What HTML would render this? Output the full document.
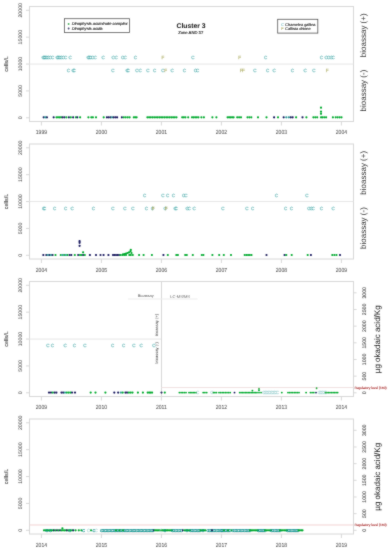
<!DOCTYPE html>
<html><head><meta charset="utf-8"><style>
html,body{margin:0;padding:0;background:#fff;}
body{width:392px;height:550px;overflow:hidden;}
svg{display:block;font-family:'Liberation Sans', Arial, sans-serif;text-rendering:geometricPrecision;}
</style></head><body>
<svg width="392" height="550" viewBox="0 0 392 550">
<defs><filter id="bl" x="0" y="0" width="100%" height="100%" filterUnits="userSpaceOnUse"><feConvolveMatrix order="3" kernelMatrix="0.025 0.075 0.025 0.075 0.6 0.075 0.025 0.075 0.025" divisor="1" edgeMode="duplicate" preserveAlpha="false"/></filter></defs>
<rect width="392" height="550" fill="#fff"/>
<g filter="url(#bl)">
<rect x="29.5" y="6.5" width="324.0" height="115.0" fill="none" stroke="#d8d8d8" stroke-width="1"/>
<line x1="26.00" y1="117.80" x2="29.50" y2="117.80" stroke="#d8d8d8" stroke-width="1"/>
<text x="0" y="0" transform="translate(20.90,117.80) rotate(-90)" font-size="5.2" fill="#505050" text-anchor="middle" dominant-baseline="central" stroke="#505050" stroke-width="0.05">0</text>
<line x1="26.00" y1="90.92" x2="29.50" y2="90.92" stroke="#d8d8d8" stroke-width="1"/>
<text x="0" y="0" transform="translate(20.90,90.92) rotate(-90)" font-size="5.2" fill="#505050" text-anchor="middle" dominant-baseline="central" stroke="#505050" stroke-width="0.05">5000</text>
<line x1="26.00" y1="64.05" x2="29.50" y2="64.05" stroke="#d8d8d8" stroke-width="1"/>
<text x="0" y="0" transform="translate(20.90,64.05) rotate(-90)" font-size="5.2" fill="#505050" text-anchor="middle" dominant-baseline="central" stroke="#505050" stroke-width="0.05">10000</text>
<line x1="26.00" y1="37.17" x2="29.50" y2="37.17" stroke="#d8d8d8" stroke-width="1"/>
<text x="0" y="0" transform="translate(20.90,37.17) rotate(-90)" font-size="5.2" fill="#505050" text-anchor="middle" dominant-baseline="central" stroke="#505050" stroke-width="0.05">15000</text>
<line x1="26.00" y1="10.30" x2="29.50" y2="10.30" stroke="#d8d8d8" stroke-width="1"/>
<text x="0" y="0" transform="translate(20.90,10.30) rotate(-90)" font-size="5.2" fill="#505050" text-anchor="middle" dominant-baseline="central" stroke="#505050" stroke-width="0.05">20000</text>
<text x="0" y="0" transform="translate(7.10,64.00) rotate(-90)" font-size="5.4" fill="#505050" text-anchor="middle" dominant-baseline="central" stroke="#505050" stroke-width="0.12">cells/L</text>
<line x1="41.40" y1="121.50" x2="41.40" y2="125.50" stroke="#d8d8d8" stroke-width="1"/>
<text x="0" y="0" transform="translate(41.40,134.20) scale(0.86,1)" font-size="5.9" fill="#505050" text-anchor="middle" stroke="#505050" stroke-width="0.05">1999</text>
<line x1="101.40" y1="121.50" x2="101.40" y2="125.50" stroke="#d8d8d8" stroke-width="1"/>
<text x="0" y="0" transform="translate(101.40,134.20) scale(0.86,1)" font-size="5.9" fill="#505050" text-anchor="middle" stroke="#505050" stroke-width="0.05">2000</text>
<line x1="161.40" y1="121.50" x2="161.40" y2="125.50" stroke="#d8d8d8" stroke-width="1"/>
<text x="0" y="0" transform="translate(161.40,134.20) scale(0.86,1)" font-size="5.9" fill="#505050" text-anchor="middle" stroke="#505050" stroke-width="0.05">2001</text>
<line x1="221.40" y1="121.50" x2="221.40" y2="125.50" stroke="#d8d8d8" stroke-width="1"/>
<text x="0" y="0" transform="translate(221.40,134.20) scale(0.86,1)" font-size="5.9" fill="#505050" text-anchor="middle" stroke="#505050" stroke-width="0.05">2002</text>
<line x1="281.40" y1="121.50" x2="281.40" y2="125.50" stroke="#d8d8d8" stroke-width="1"/>
<text x="0" y="0" transform="translate(281.40,134.20) scale(0.86,1)" font-size="5.9" fill="#505050" text-anchor="middle" stroke="#505050" stroke-width="0.05">2003</text>
<line x1="341.40" y1="121.50" x2="341.40" y2="125.50" stroke="#d8d8d8" stroke-width="1"/>
<text x="0" y="0" transform="translate(341.40,134.20) scale(0.86,1)" font-size="5.9" fill="#505050" text-anchor="middle" stroke="#505050" stroke-width="0.05">2004</text>
<rect x="29.5" y="144.0" width="324.0" height="115.0" fill="none" stroke="#d8d8d8" stroke-width="1"/>
<line x1="26.00" y1="255.30" x2="29.50" y2="255.30" stroke="#d8d8d8" stroke-width="1"/>
<text x="0" y="0" transform="translate(20.90,255.30) rotate(-90)" font-size="5.2" fill="#505050" text-anchor="middle" dominant-baseline="central" stroke="#505050" stroke-width="0.05">0</text>
<line x1="26.00" y1="228.43" x2="29.50" y2="228.43" stroke="#d8d8d8" stroke-width="1"/>
<text x="0" y="0" transform="translate(20.90,228.43) rotate(-90)" font-size="5.2" fill="#505050" text-anchor="middle" dominant-baseline="central" stroke="#505050" stroke-width="0.05">5000</text>
<line x1="26.00" y1="201.55" x2="29.50" y2="201.55" stroke="#d8d8d8" stroke-width="1"/>
<text x="0" y="0" transform="translate(20.90,201.55) rotate(-90)" font-size="5.2" fill="#505050" text-anchor="middle" dominant-baseline="central" stroke="#505050" stroke-width="0.05">10000</text>
<line x1="26.00" y1="174.68" x2="29.50" y2="174.68" stroke="#d8d8d8" stroke-width="1"/>
<text x="0" y="0" transform="translate(20.90,174.68) rotate(-90)" font-size="5.2" fill="#505050" text-anchor="middle" dominant-baseline="central" stroke="#505050" stroke-width="0.05">15000</text>
<line x1="26.00" y1="147.80" x2="29.50" y2="147.80" stroke="#d8d8d8" stroke-width="1"/>
<text x="0" y="0" transform="translate(20.90,147.80) rotate(-90)" font-size="5.2" fill="#505050" text-anchor="middle" dominant-baseline="central" stroke="#505050" stroke-width="0.05">20000</text>
<text x="0" y="0" transform="translate(7.10,201.50) rotate(-90)" font-size="5.4" fill="#505050" text-anchor="middle" dominant-baseline="central" stroke="#505050" stroke-width="0.12">cells/L</text>
<line x1="41.40" y1="259.00" x2="41.40" y2="263.00" stroke="#d8d8d8" stroke-width="1"/>
<text x="0" y="0" transform="translate(41.40,271.70) scale(0.86,1)" font-size="5.9" fill="#505050" text-anchor="middle" stroke="#505050" stroke-width="0.05">2004</text>
<line x1="101.40" y1="259.00" x2="101.40" y2="263.00" stroke="#d8d8d8" stroke-width="1"/>
<text x="0" y="0" transform="translate(101.40,271.70) scale(0.86,1)" font-size="5.9" fill="#505050" text-anchor="middle" stroke="#505050" stroke-width="0.05">2005</text>
<line x1="161.40" y1="259.00" x2="161.40" y2="263.00" stroke="#d8d8d8" stroke-width="1"/>
<text x="0" y="0" transform="translate(161.40,271.70) scale(0.86,1)" font-size="5.9" fill="#505050" text-anchor="middle" stroke="#505050" stroke-width="0.05">2006</text>
<line x1="221.40" y1="259.00" x2="221.40" y2="263.00" stroke="#d8d8d8" stroke-width="1"/>
<text x="0" y="0" transform="translate(221.40,271.70) scale(0.86,1)" font-size="5.9" fill="#505050" text-anchor="middle" stroke="#505050" stroke-width="0.05">2007</text>
<line x1="281.40" y1="259.00" x2="281.40" y2="263.00" stroke="#d8d8d8" stroke-width="1"/>
<text x="0" y="0" transform="translate(281.40,271.70) scale(0.86,1)" font-size="5.9" fill="#505050" text-anchor="middle" stroke="#505050" stroke-width="0.05">2008</text>
<line x1="341.40" y1="259.00" x2="341.40" y2="263.00" stroke="#d8d8d8" stroke-width="1"/>
<text x="0" y="0" transform="translate(341.40,271.70) scale(0.86,1)" font-size="5.9" fill="#505050" text-anchor="middle" stroke="#505050" stroke-width="0.05">2009</text>
<rect x="29.5" y="281.5" width="324.0" height="115.0" fill="none" stroke="#d8d8d8" stroke-width="1"/>
<line x1="26.00" y1="392.80" x2="29.50" y2="392.80" stroke="#d8d8d8" stroke-width="1"/>
<text x="0" y="0" transform="translate(20.90,392.80) rotate(-90)" font-size="5.2" fill="#505050" text-anchor="middle" dominant-baseline="central" stroke="#505050" stroke-width="0.05">0</text>
<line x1="26.00" y1="365.93" x2="29.50" y2="365.93" stroke="#d8d8d8" stroke-width="1"/>
<text x="0" y="0" transform="translate(20.90,365.93) rotate(-90)" font-size="5.2" fill="#505050" text-anchor="middle" dominant-baseline="central" stroke="#505050" stroke-width="0.05">5000</text>
<line x1="26.00" y1="339.05" x2="29.50" y2="339.05" stroke="#d8d8d8" stroke-width="1"/>
<text x="0" y="0" transform="translate(20.90,339.05) rotate(-90)" font-size="5.2" fill="#505050" text-anchor="middle" dominant-baseline="central" stroke="#505050" stroke-width="0.05">10000</text>
<line x1="26.00" y1="312.18" x2="29.50" y2="312.18" stroke="#d8d8d8" stroke-width="1"/>
<text x="0" y="0" transform="translate(20.90,312.18) rotate(-90)" font-size="5.2" fill="#505050" text-anchor="middle" dominant-baseline="central" stroke="#505050" stroke-width="0.05">15000</text>
<line x1="26.00" y1="285.30" x2="29.50" y2="285.30" stroke="#d8d8d8" stroke-width="1"/>
<text x="0" y="0" transform="translate(20.90,285.30) rotate(-90)" font-size="5.2" fill="#505050" text-anchor="middle" dominant-baseline="central" stroke="#505050" stroke-width="0.05">20000</text>
<text x="0" y="0" transform="translate(7.10,339.00) rotate(-90)" font-size="5.4" fill="#505050" text-anchor="middle" dominant-baseline="central" stroke="#505050" stroke-width="0.12">cells/L</text>
<line x1="41.40" y1="396.50" x2="41.40" y2="400.50" stroke="#d8d8d8" stroke-width="1"/>
<text x="0" y="0" transform="translate(41.40,409.20) scale(0.86,1)" font-size="5.9" fill="#505050" text-anchor="middle" stroke="#505050" stroke-width="0.05">2009</text>
<line x1="101.40" y1="396.50" x2="101.40" y2="400.50" stroke="#d8d8d8" stroke-width="1"/>
<text x="0" y="0" transform="translate(101.40,409.20) scale(0.86,1)" font-size="5.9" fill="#505050" text-anchor="middle" stroke="#505050" stroke-width="0.05">2010</text>
<line x1="161.40" y1="396.50" x2="161.40" y2="400.50" stroke="#d8d8d8" stroke-width="1"/>
<text x="0" y="0" transform="translate(161.40,409.20) scale(0.86,1)" font-size="5.9" fill="#505050" text-anchor="middle" stroke="#505050" stroke-width="0.05">2011</text>
<line x1="221.40" y1="396.50" x2="221.40" y2="400.50" stroke="#d8d8d8" stroke-width="1"/>
<text x="0" y="0" transform="translate(221.40,409.20) scale(0.86,1)" font-size="5.9" fill="#505050" text-anchor="middle" stroke="#505050" stroke-width="0.05">2012</text>
<line x1="281.40" y1="396.50" x2="281.40" y2="400.50" stroke="#d8d8d8" stroke-width="1"/>
<text x="0" y="0" transform="translate(281.40,409.20) scale(0.86,1)" font-size="5.9" fill="#505050" text-anchor="middle" stroke="#505050" stroke-width="0.05">2013</text>
<line x1="341.40" y1="396.50" x2="341.40" y2="400.50" stroke="#d8d8d8" stroke-width="1"/>
<text x="0" y="0" transform="translate(341.40,409.20) scale(0.86,1)" font-size="5.9" fill="#505050" text-anchor="middle" stroke="#505050" stroke-width="0.05">2014</text>
<rect x="29.5" y="419.0" width="324.0" height="115.0" fill="none" stroke="#d8d8d8" stroke-width="1"/>
<line x1="26.00" y1="530.30" x2="29.50" y2="530.30" stroke="#d8d8d8" stroke-width="1"/>
<text x="0" y="0" transform="translate(20.90,530.30) rotate(-90)" font-size="5.2" fill="#505050" text-anchor="middle" dominant-baseline="central" stroke="#505050" stroke-width="0.05">0</text>
<line x1="26.00" y1="503.42" x2="29.50" y2="503.42" stroke="#d8d8d8" stroke-width="1"/>
<text x="0" y="0" transform="translate(20.90,503.42) rotate(-90)" font-size="5.2" fill="#505050" text-anchor="middle" dominant-baseline="central" stroke="#505050" stroke-width="0.05">5000</text>
<line x1="26.00" y1="476.55" x2="29.50" y2="476.55" stroke="#d8d8d8" stroke-width="1"/>
<text x="0" y="0" transform="translate(20.90,476.55) rotate(-90)" font-size="5.2" fill="#505050" text-anchor="middle" dominant-baseline="central" stroke="#505050" stroke-width="0.05">10000</text>
<line x1="26.00" y1="449.67" x2="29.50" y2="449.67" stroke="#d8d8d8" stroke-width="1"/>
<text x="0" y="0" transform="translate(20.90,449.67) rotate(-90)" font-size="5.2" fill="#505050" text-anchor="middle" dominant-baseline="central" stroke="#505050" stroke-width="0.05">15000</text>
<line x1="26.00" y1="422.80" x2="29.50" y2="422.80" stroke="#d8d8d8" stroke-width="1"/>
<text x="0" y="0" transform="translate(20.90,422.80) rotate(-90)" font-size="5.2" fill="#505050" text-anchor="middle" dominant-baseline="central" stroke="#505050" stroke-width="0.05">20000</text>
<text x="0" y="0" transform="translate(7.10,476.50) rotate(-90)" font-size="5.4" fill="#505050" text-anchor="middle" dominant-baseline="central" stroke="#505050" stroke-width="0.12">cells/L</text>
<line x1="41.40" y1="534.00" x2="41.40" y2="538.00" stroke="#d8d8d8" stroke-width="1"/>
<text x="0" y="0" transform="translate(41.40,546.70) scale(0.86,1)" font-size="5.9" fill="#505050" text-anchor="middle" stroke="#505050" stroke-width="0.05">2014</text>
<line x1="101.40" y1="534.00" x2="101.40" y2="538.00" stroke="#d8d8d8" stroke-width="1"/>
<text x="0" y="0" transform="translate(101.40,546.70) scale(0.86,1)" font-size="5.9" fill="#505050" text-anchor="middle" stroke="#505050" stroke-width="0.05">2015</text>
<line x1="161.40" y1="534.00" x2="161.40" y2="538.00" stroke="#d8d8d8" stroke-width="1"/>
<text x="0" y="0" transform="translate(161.40,546.70) scale(0.86,1)" font-size="5.9" fill="#505050" text-anchor="middle" stroke="#505050" stroke-width="0.05">2016</text>
<line x1="221.40" y1="534.00" x2="221.40" y2="538.00" stroke="#d8d8d8" stroke-width="1"/>
<text x="0" y="0" transform="translate(221.40,546.70) scale(0.86,1)" font-size="5.9" fill="#505050" text-anchor="middle" stroke="#505050" stroke-width="0.05">2017</text>
<line x1="281.40" y1="534.00" x2="281.40" y2="538.00" stroke="#d8d8d8" stroke-width="1"/>
<text x="0" y="0" transform="translate(281.40,546.70) scale(0.86,1)" font-size="5.9" fill="#505050" text-anchor="middle" stroke="#505050" stroke-width="0.05">2018</text>
<line x1="341.40" y1="534.00" x2="341.40" y2="538.00" stroke="#d8d8d8" stroke-width="1"/>
<text x="0" y="0" transform="translate(341.40,546.70) scale(0.86,1)" font-size="5.9" fill="#505050" text-anchor="middle" stroke="#505050" stroke-width="0.05">2019</text>
<line x1="29.50" y1="64.05" x2="353.50" y2="64.05" stroke="#e6e6e6" stroke-width="1"/>
<line x1="29.50" y1="201.55" x2="353.50" y2="201.55" stroke="#e6e6e6" stroke-width="1"/>
<line x1="29.50" y1="339.05" x2="161.50" y2="339.05" stroke="#e6e6e6" stroke-width="1"/>
<text x="0" y="0" transform="translate(363.60,35.30) rotate(-90)" font-size="8" fill="#333333" text-anchor="middle" dominant-baseline="central">bioassay (+)</text>
<text x="0" y="0" transform="translate(363.60,90.60) rotate(-90)" font-size="8" fill="#333333" text-anchor="middle" dominant-baseline="central">bioassay (-)</text>
<text x="0" y="0" transform="translate(363.60,172.80) rotate(-90)" font-size="8" fill="#333333" text-anchor="middle" dominant-baseline="central">bioassay (+)</text>
<text x="0" y="0" transform="translate(363.60,228.10) rotate(-90)" font-size="8" fill="#333333" text-anchor="middle" dominant-baseline="central">bioassay (-)</text>
<line x1="161.50" y1="281.50" x2="161.50" y2="396.50" stroke="#d8d8d8" stroke-width="1"/>
<text x="0" y="0" transform="translate(156.80,325.00) rotate(-90)" font-size="4.05" fill="#333333" text-anchor="middle" dominant-baseline="central">bioassay (+)</text>
<text x="0" y="0" transform="translate(156.80,352.85) rotate(-90)" font-size="4.05" fill="#333333" text-anchor="middle" dominant-baseline="central">bioassay (-)</text>
<line x1="128.00" y1="299.00" x2="197.50" y2="299.00" stroke="#ededed" stroke-width="1"/>
<text x="145.70" y="297.40" font-size="3.95" fill="#555" text-anchor="middle">Bioassay</text>
<text x="180.15" y="297.60" font-size="4.05" fill="#555" text-anchor="middle">LC-MS/MS</text>
<line x1="353.50" y1="392.80" x2="356.60" y2="392.80" stroke="#d8d8d8" stroke-width="1"/>
<text x="0" y="0" transform="translate(365.00,392.80) rotate(-90)" font-size="5.2" fill="#505050" text-anchor="middle" dominant-baseline="central" stroke="#505050" stroke-width="0.12">0</text>
<line x1="353.50" y1="376.13" x2="356.60" y2="376.13" stroke="#d8d8d8" stroke-width="1"/>
<text x="0" y="0" transform="translate(365.00,376.13) rotate(-90)" font-size="5.2" fill="#505050" text-anchor="middle" dominant-baseline="central" stroke="#505050" stroke-width="0.12">500</text>
<line x1="353.50" y1="359.47" x2="356.60" y2="359.47" stroke="#d8d8d8" stroke-width="1"/>
<text x="0" y="0" transform="translate(365.00,359.47) rotate(-90)" font-size="5.2" fill="#505050" text-anchor="middle" dominant-baseline="central" stroke="#505050" stroke-width="0.12">1000</text>
<line x1="353.50" y1="342.81" x2="356.60" y2="342.81" stroke="#d8d8d8" stroke-width="1"/>
<text x="0" y="0" transform="translate(365.00,342.81) rotate(-90)" font-size="5.2" fill="#505050" text-anchor="middle" dominant-baseline="central" stroke="#505050" stroke-width="0.12">1500</text>
<line x1="353.50" y1="326.14" x2="356.60" y2="326.14" stroke="#d8d8d8" stroke-width="1"/>
<text x="0" y="0" transform="translate(365.00,326.14) rotate(-90)" font-size="5.2" fill="#505050" text-anchor="middle" dominant-baseline="central" stroke="#505050" stroke-width="0.12">2000</text>
<line x1="353.50" y1="309.48" x2="356.60" y2="309.48" stroke="#d8d8d8" stroke-width="1"/>
<text x="0" y="0" transform="translate(365.00,309.48) rotate(-90)" font-size="5.2" fill="#505050" text-anchor="middle" dominant-baseline="central" stroke="#505050" stroke-width="0.12">2500</text>
<line x1="353.50" y1="292.81" x2="356.60" y2="292.81" stroke="#d8d8d8" stroke-width="1"/>
<text x="0" y="0" transform="translate(365.00,292.81) rotate(-90)" font-size="5.2" fill="#505050" text-anchor="middle" dominant-baseline="central" stroke="#505050" stroke-width="0.12">3000</text>
<text x="0" y="0" transform="translate(377.00,339.30) rotate(-90)" font-size="8" fill="#262626" text-anchor="middle" dominant-baseline="central" stroke="#262626" stroke-width="0.04">µg okadaic acid/Kg</text>
<line x1="161.50" y1="387.47" x2="353.50" y2="387.47" stroke="#f0e2e2" stroke-width="1"/>
<text x="354.40" y="388.57" font-size="3.3" fill="#a01818" text-anchor="start" stroke="#a01818" stroke-width="0.08">Regulatory level (160)</text>
<line x1="353.50" y1="530.30" x2="356.60" y2="530.30" stroke="#d8d8d8" stroke-width="1"/>
<text x="0" y="0" transform="translate(365.00,530.30) rotate(-90)" font-size="5.2" fill="#505050" text-anchor="middle" dominant-baseline="central" stroke="#505050" stroke-width="0.12">0</text>
<line x1="353.50" y1="513.63" x2="356.60" y2="513.63" stroke="#d8d8d8" stroke-width="1"/>
<text x="0" y="0" transform="translate(365.00,513.63) rotate(-90)" font-size="5.2" fill="#505050" text-anchor="middle" dominant-baseline="central" stroke="#505050" stroke-width="0.12">500</text>
<line x1="353.50" y1="496.97" x2="356.60" y2="496.97" stroke="#d8d8d8" stroke-width="1"/>
<text x="0" y="0" transform="translate(365.00,496.97) rotate(-90)" font-size="5.2" fill="#505050" text-anchor="middle" dominant-baseline="central" stroke="#505050" stroke-width="0.12">1000</text>
<line x1="353.50" y1="480.30" x2="356.60" y2="480.30" stroke="#d8d8d8" stroke-width="1"/>
<text x="0" y="0" transform="translate(365.00,480.30) rotate(-90)" font-size="5.2" fill="#505050" text-anchor="middle" dominant-baseline="central" stroke="#505050" stroke-width="0.12">1500</text>
<line x1="353.50" y1="463.64" x2="356.60" y2="463.64" stroke="#d8d8d8" stroke-width="1"/>
<text x="0" y="0" transform="translate(365.00,463.64) rotate(-90)" font-size="5.2" fill="#505050" text-anchor="middle" dominant-baseline="central" stroke="#505050" stroke-width="0.12">2000</text>
<line x1="353.50" y1="446.97" x2="356.60" y2="446.97" stroke="#d8d8d8" stroke-width="1"/>
<text x="0" y="0" transform="translate(365.00,446.97) rotate(-90)" font-size="5.2" fill="#505050" text-anchor="middle" dominant-baseline="central" stroke="#505050" stroke-width="0.12">2500</text>
<line x1="353.50" y1="430.31" x2="356.60" y2="430.31" stroke="#d8d8d8" stroke-width="1"/>
<text x="0" y="0" transform="translate(365.00,430.31) rotate(-90)" font-size="5.2" fill="#505050" text-anchor="middle" dominant-baseline="central" stroke="#505050" stroke-width="0.12">3000</text>
<text x="0" y="0" transform="translate(377.00,476.80) rotate(-90)" font-size="8" fill="#262626" text-anchor="middle" dominant-baseline="central" stroke="#262626" stroke-width="0.04">µg okadaic acid/Kg</text>
<line x1="29.50" y1="524.97" x2="353.50" y2="524.97" stroke="#f2d2d2" stroke-width="1"/>
<text x="354.40" y="526.07" font-size="3.3" fill="#a01818" text-anchor="start" stroke="#a01818" stroke-width="0.08">Regulatory level (160)</text>
<text x="191.10" y="28.00" font-size="6.8" fill="#111" text-anchor="middle" font-weight="bold">Cluster 3</text>
<text x="190.70" y="33.80" font-size="4.2" fill="#000" text-anchor="middle" stroke="#000" stroke-width="0.1">Zone AND 37</text>
<rect x="64.5" y="18.7" width="64.9" height="13.8" fill="#fff" stroke="#444" stroke-width="0.8"/>
<circle cx="68.6" cy="24.0" r="0.9" fill="#00aa2e"/>
<circle cx="68.6" cy="28.5" r="0.9" fill="#14145a"/>
<text x="71.80" y="25.40" font-size="4.06" fill="#000" text-anchor="start" font-style="italic" stroke="#000" stroke-width="0.1">Dinophysis acuminate complex</text>
<text x="71.80" y="29.90" font-size="4.06" fill="#000" text-anchor="start" font-style="italic" stroke="#000" stroke-width="0.1">Dinophysis acuta</text>
<rect x="277.7" y="19.3" width="40.1" height="13.8" fill="#fff" stroke="#444" stroke-width="0.8"/>
<text x="282.60" y="25.60" font-size="4.0" fill="#3a9fa6" text-anchor="middle">C</text>
<text x="282.60" y="30.20" font-size="4.0" fill="#8f8f28" text-anchor="middle">F</text>
<text x="285.30" y="25.60" font-size="3.92" fill="#000" text-anchor="start" stroke="#000" stroke-width="0.1">Chamelea gallina</text>
<text x="285.30" y="30.20" font-size="3.92" fill="#000" text-anchor="start" stroke="#000" stroke-width="0.1">Callista chione</text>
<text x="43.0" y="59.04" font-size="4.5" fill="#1a9494" stroke="#1a9494" stroke-width="0.25" text-anchor="middle" opacity="0.58">C</text>
<text x="44.0" y="59.04" font-size="4.5" fill="#1a9494" stroke="#1a9494" stroke-width="0.25" text-anchor="middle" opacity="0.58">C</text>
<text x="45.0" y="59.04" font-size="4.5" fill="#1a9494" stroke="#1a9494" stroke-width="0.25" text-anchor="middle" opacity="0.58">C</text>
<text x="46.5" y="59.04" font-size="4.5" fill="#1a9494" stroke="#1a9494" stroke-width="0.25" text-anchor="middle" opacity="0.58">C</text>
<text x="48.0" y="59.04" font-size="4.5" fill="#1a9494" stroke="#1a9494" stroke-width="0.25" text-anchor="middle" opacity="0.58">C</text>
<text x="50.0" y="59.04" font-size="4.5" fill="#1a9494" stroke="#1a9494" stroke-width="0.25" text-anchor="middle" opacity="0.58">C</text>
<text x="52.5" y="59.04" font-size="4.5" fill="#1a9494" stroke="#1a9494" stroke-width="0.25" text-anchor="middle" opacity="0.58">C</text>
<text x="57.0" y="59.04" font-size="4.5" fill="#1a9494" stroke="#1a9494" stroke-width="0.25" text-anchor="middle" opacity="0.58">C</text>
<text x="58.0" y="59.04" font-size="4.5" fill="#1a9494" stroke="#1a9494" stroke-width="0.25" text-anchor="middle" opacity="0.58">C</text>
<text x="59.5" y="59.04" font-size="4.5" fill="#1a9494" stroke="#1a9494" stroke-width="0.25" text-anchor="middle" opacity="0.58">C</text>
<text x="61.0" y="59.04" font-size="4.5" fill="#1a9494" stroke="#1a9494" stroke-width="0.25" text-anchor="middle" opacity="0.58">C</text>
<text x="63.0" y="59.04" font-size="4.5" fill="#1a9494" stroke="#1a9494" stroke-width="0.25" text-anchor="middle" opacity="0.58">C</text>
<text x="65.5" y="59.04" font-size="4.5" fill="#1a9494" stroke="#1a9494" stroke-width="0.25" text-anchor="middle" opacity="0.58">C</text>
<text x="70.0" y="59.04" font-size="4.5" fill="#1a9494" stroke="#1a9494" stroke-width="0.25" text-anchor="middle" opacity="0.58">C</text>
<text x="88.0" y="59.04" font-size="4.5" fill="#1a9494" stroke="#1a9494" stroke-width="0.25" text-anchor="middle" opacity="0.58">C</text>
<text x="89.0" y="59.04" font-size="4.5" fill="#1a9494" stroke="#1a9494" stroke-width="0.25" text-anchor="middle" opacity="0.58">C</text>
<text x="90.5" y="59.04" font-size="4.5" fill="#1a9494" stroke="#1a9494" stroke-width="0.25" text-anchor="middle" opacity="0.58">C</text>
<text x="92.5" y="59.04" font-size="4.5" fill="#1a9494" stroke="#1a9494" stroke-width="0.25" text-anchor="middle" opacity="0.58">C</text>
<text x="95.0" y="59.04" font-size="4.5" fill="#1a9494" stroke="#1a9494" stroke-width="0.25" text-anchor="middle" opacity="0.58">C</text>
<text x="103.0" y="59.04" font-size="4.5" fill="#1a9494" stroke="#1a9494" stroke-width="0.25" text-anchor="middle" opacity="0.58">C</text>
<text x="113.0" y="59.04" font-size="4.5" fill="#1a9494" stroke="#1a9494" stroke-width="0.25" text-anchor="middle" opacity="0.58">C</text>
<text x="116.0" y="59.04" font-size="4.5" fill="#1a9494" stroke="#1a9494" stroke-width="0.25" text-anchor="middle" opacity="0.58">C</text>
<text x="122.5" y="59.04" font-size="4.5" fill="#1a9494" stroke="#1a9494" stroke-width="0.25" text-anchor="middle" opacity="0.58">C</text>
<text x="125.0" y="59.04" font-size="4.5" fill="#1a9494" stroke="#1a9494" stroke-width="0.25" text-anchor="middle" opacity="0.58">C</text>
<text x="135.4" y="59.04" font-size="4.5" fill="#1a9494" stroke="#1a9494" stroke-width="0.25" text-anchor="middle" opacity="0.58">C</text>
<text x="192.8" y="59.04" font-size="4.5" fill="#1a9494" stroke="#1a9494" stroke-width="0.25" text-anchor="middle" opacity="0.58">C</text>
<text x="265.6" y="59.04" font-size="4.5" fill="#1a9494" stroke="#1a9494" stroke-width="0.25" text-anchor="middle" opacity="0.58">C</text>
<text x="321.3" y="59.04" font-size="4.5" fill="#1a9494" stroke="#1a9494" stroke-width="0.25" text-anchor="middle" opacity="0.58">C</text>
<text x="326.0" y="59.04" font-size="4.5" fill="#1a9494" stroke="#1a9494" stroke-width="0.25" text-anchor="middle" opacity="0.58">C</text>
<text x="328.5" y="59.04" font-size="4.5" fill="#1a9494" stroke="#1a9494" stroke-width="0.25" text-anchor="middle" opacity="0.58">C</text>
<text x="331.0" y="59.04" font-size="4.5" fill="#1a9494" stroke="#1a9494" stroke-width="0.25" text-anchor="middle" opacity="0.58">C</text>
<text x="333.0" y="59.04" font-size="4.5" fill="#1a9494" stroke="#1a9494" stroke-width="0.25" text-anchor="middle" opacity="0.58">C</text>
<text x="162.8" y="59.04" font-size="4.5" fill="#8f8f28" stroke="#8f8f28" stroke-width="0.25" text-anchor="middle" opacity="0.58">F</text>
<text x="239.7" y="59.04" font-size="4.5" fill="#8f8f28" stroke="#8f8f28" stroke-width="0.25" text-anchor="middle" opacity="0.58">F</text>
<text x="68.4" y="72.34" font-size="4.5" fill="#1a9494" stroke="#1a9494" stroke-width="0.25" text-anchor="middle" opacity="0.58">C</text>
<text x="73.2" y="72.34" font-size="4.5" fill="#1a9494" stroke="#1a9494" stroke-width="0.25" text-anchor="middle" opacity="0.58">C</text>
<text x="74.2" y="72.34" font-size="4.5" fill="#1a9494" stroke="#1a9494" stroke-width="0.25" text-anchor="middle" opacity="0.58">C</text>
<text x="112.9" y="72.34" font-size="4.5" fill="#1a9494" stroke="#1a9494" stroke-width="0.25" text-anchor="middle" opacity="0.58">C</text>
<text x="127.0" y="72.34" font-size="4.5" fill="#1a9494" stroke="#1a9494" stroke-width="0.25" text-anchor="middle" opacity="0.58">C</text>
<text x="128.0" y="72.34" font-size="4.5" fill="#1a9494" stroke="#1a9494" stroke-width="0.25" text-anchor="middle" opacity="0.58">C</text>
<text x="136.9" y="72.34" font-size="4.5" fill="#1a9494" stroke="#1a9494" stroke-width="0.25" text-anchor="middle" opacity="0.58">C</text>
<text x="140.0" y="72.34" font-size="4.5" fill="#1a9494" stroke="#1a9494" stroke-width="0.25" text-anchor="middle" opacity="0.58">C</text>
<text x="147.8" y="72.34" font-size="4.5" fill="#1a9494" stroke="#1a9494" stroke-width="0.25" text-anchor="middle" opacity="0.58">C</text>
<text x="154.6" y="72.34" font-size="4.5" fill="#1a9494" stroke="#1a9494" stroke-width="0.25" text-anchor="middle" opacity="0.58">C</text>
<text x="162.8" y="72.34" font-size="4.5" fill="#1a9494" stroke="#1a9494" stroke-width="0.25" text-anchor="middle" opacity="0.58">C</text>
<text x="172.1" y="72.34" font-size="4.5" fill="#1a9494" stroke="#1a9494" stroke-width="0.25" text-anchor="middle" opacity="0.58">C</text>
<text x="184.4" y="72.34" font-size="4.5" fill="#1a9494" stroke="#1a9494" stroke-width="0.25" text-anchor="middle" opacity="0.58">C</text>
<text x="195.3" y="72.34" font-size="4.5" fill="#1a9494" stroke="#1a9494" stroke-width="0.25" text-anchor="middle" opacity="0.58">C</text>
<text x="197.6" y="72.34" font-size="4.5" fill="#1a9494" stroke="#1a9494" stroke-width="0.25" text-anchor="middle" opacity="0.58">C</text>
<text x="254.8" y="72.34" font-size="4.5" fill="#1a9494" stroke="#1a9494" stroke-width="0.25" text-anchor="middle" opacity="0.58">C</text>
<text x="267.5" y="72.34" font-size="4.5" fill="#1a9494" stroke="#1a9494" stroke-width="0.25" text-anchor="middle" opacity="0.58">C</text>
<text x="274.2" y="72.34" font-size="4.5" fill="#1a9494" stroke="#1a9494" stroke-width="0.25" text-anchor="middle" opacity="0.58">C</text>
<text x="292.4" y="72.34" font-size="4.5" fill="#1a9494" stroke="#1a9494" stroke-width="0.25" text-anchor="middle" opacity="0.58">C</text>
<text x="305.2" y="72.34" font-size="4.5" fill="#1a9494" stroke="#1a9494" stroke-width="0.25" text-anchor="middle" opacity="0.58">C</text>
<text x="313.8" y="72.34" font-size="4.5" fill="#1a9494" stroke="#1a9494" stroke-width="0.25" text-anchor="middle" opacity="0.58">C</text>
<text x="165.5" y="72.34" font-size="4.5" fill="#8f8f28" stroke="#8f8f28" stroke-width="0.25" text-anchor="middle" opacity="0.58">F</text>
<text x="241.0" y="72.34" font-size="4.5" fill="#8f8f28" stroke="#8f8f28" stroke-width="0.25" text-anchor="middle" opacity="0.58">F</text>
<text x="243.3" y="72.34" font-size="4.5" fill="#8f8f28" stroke="#8f8f28" stroke-width="0.25" text-anchor="middle" opacity="0.58">F</text>
<text x="327.0" y="72.34" font-size="4.5" fill="#8f8f28" stroke="#8f8f28" stroke-width="0.25" text-anchor="middle" opacity="0.58">F</text>
<circle cx="43.7" cy="117.30" r="1.1" fill="#14145a"/>
<circle cx="45.3" cy="117.30" r="1.1" fill="#2a9a9a"/>
<circle cx="46.9" cy="117.30" r="1.1" fill="#14145a"/>
<circle cx="53.7" cy="117.30" r="1.1" fill="#14145a"/>
<circle cx="56.5" cy="117.30" r="1.1" fill="#00aa2e"/>
<circle cx="58.0" cy="117.30" r="1.1" fill="#00aa2e"/>
<circle cx="59.5" cy="117.30" r="1.1" fill="#00aa2e"/>
<circle cx="61.0" cy="117.30" r="1.1" fill="#00aa2e"/>
<circle cx="62.5" cy="117.30" r="1.1" fill="#14145a"/>
<circle cx="64.4" cy="117.30" r="1.1" fill="#14145a"/>
<circle cx="66.4" cy="117.30" r="1.1" fill="#00aa2e"/>
<circle cx="68.9" cy="117.30" r="1.1" fill="#14145a"/>
<circle cx="70.8" cy="117.30" r="1.1" fill="#00aa2e"/>
<circle cx="73.1" cy="117.30" r="1.1" fill="#14145a"/>
<circle cx="75.9" cy="117.30" r="1.1" fill="#00aa2e"/>
<circle cx="77.3" cy="117.30" r="1.1" fill="#14145a"/>
<circle cx="80.1" cy="117.30" r="1.1" fill="#00aa2e"/>
<circle cx="88.4" cy="117.30" r="1.1" fill="#00aa2e"/>
<circle cx="91.3" cy="117.30" r="1.1" fill="#00aa2e"/>
<circle cx="92.9" cy="117.30" r="1.1" fill="#00aa2e"/>
<circle cx="96.0" cy="117.30" r="1.1" fill="#00aa2e"/>
<circle cx="103.7" cy="117.30" r="1.1" fill="#00aa2e"/>
<circle cx="106.9" cy="117.30" r="1.1" fill="#14145a"/>
<circle cx="108.7" cy="117.30" r="1.1" fill="#14145a"/>
<circle cx="110.5" cy="117.30" r="1.1" fill="#14145a"/>
<circle cx="112.0" cy="117.30" r="1.1" fill="#2a9a9a"/>
<circle cx="113.5" cy="117.30" r="1.1" fill="#14145a"/>
<circle cx="115.3" cy="117.30" r="1.1" fill="#14145a"/>
<circle cx="117.1" cy="117.30" r="1.1" fill="#14145a"/>
<circle cx="121.9" cy="117.30" r="1.1" fill="#14145a"/>
<circle cx="123.8" cy="117.30" r="1.1" fill="#00aa2e"/>
<circle cx="125.7" cy="117.30" r="1.1" fill="#00aa2e"/>
<circle cx="127.7" cy="117.30" r="1.1" fill="#00aa2e"/>
<circle cx="129.6" cy="117.30" r="1.1" fill="#00aa2e"/>
<circle cx="133.8" cy="117.30" r="1.1" fill="#00aa2e"/>
<circle cx="135.2" cy="117.30" r="1.1" fill="#00aa2e"/>
<circle cx="136.6" cy="117.30" r="1.1" fill="#00aa2e"/>
<circle cx="147.4" cy="117.30" r="1.1" fill="#00aa2e"/>
<circle cx="149.1" cy="117.30" r="1.1" fill="#00aa2e"/>
<circle cx="150.8" cy="117.30" r="1.1" fill="#00aa2e"/>
<circle cx="152.5" cy="117.30" r="1.1" fill="#00aa2e"/>
<circle cx="154.2" cy="117.30" r="1.1" fill="#00aa2e"/>
<circle cx="156.0" cy="117.30" r="1.1" fill="#00aa2e"/>
<circle cx="157.7" cy="117.30" r="1.1" fill="#00aa2e"/>
<circle cx="159.4" cy="117.30" r="1.1" fill="#00aa2e"/>
<circle cx="161.1" cy="117.30" r="1.1" fill="#00aa2e"/>
<circle cx="162.8" cy="117.30" r="1.1" fill="#00aa2e"/>
<circle cx="164.5" cy="117.30" r="1.1" fill="#00aa2e"/>
<circle cx="166.2" cy="117.30" r="1.1" fill="#00aa2e"/>
<circle cx="167.9" cy="117.30" r="1.1" fill="#00aa2e"/>
<circle cx="169.7" cy="117.30" r="1.1" fill="#00aa2e"/>
<circle cx="171.4" cy="117.30" r="1.1" fill="#00aa2e"/>
<circle cx="173.1" cy="117.30" r="1.1" fill="#00aa2e"/>
<circle cx="174.8" cy="117.30" r="1.1" fill="#00aa2e"/>
<circle cx="176.5" cy="117.30" r="1.1" fill="#00aa2e"/>
<circle cx="182.2" cy="117.30" r="1.1" fill="#00aa2e"/>
<circle cx="183.8" cy="117.30" r="1.1" fill="#00aa2e"/>
<circle cx="185.4" cy="117.30" r="1.1" fill="#00aa2e"/>
<circle cx="188.2" cy="117.30" r="1.1" fill="#00aa2e"/>
<circle cx="192.0" cy="117.30" r="1.1" fill="#00aa2e"/>
<circle cx="193.6" cy="117.30" r="1.1" fill="#00aa2e"/>
<circle cx="195.2" cy="117.30" r="1.1" fill="#00aa2e"/>
<circle cx="196.8" cy="117.30" r="1.1" fill="#00aa2e"/>
<circle cx="198.4" cy="117.30" r="1.1" fill="#00aa2e"/>
<circle cx="201.4" cy="117.30" r="1.1" fill="#00aa2e"/>
<circle cx="203.9" cy="117.30" r="1.1" fill="#00aa2e"/>
<circle cx="212.4" cy="117.30" r="1.1" fill="#00aa2e"/>
<circle cx="216.4" cy="117.30" r="1.1" fill="#00aa2e"/>
<circle cx="227.6" cy="117.30" r="1.1" fill="#00aa2e"/>
<circle cx="229.1" cy="117.30" r="1.1" fill="#00aa2e"/>
<circle cx="230.6" cy="117.30" r="1.1" fill="#00aa2e"/>
<circle cx="232.1" cy="117.30" r="1.1" fill="#00aa2e"/>
<circle cx="233.6" cy="117.30" r="1.1" fill="#00aa2e"/>
<circle cx="237.2" cy="117.30" r="1.1" fill="#00aa2e"/>
<circle cx="239.1" cy="117.30" r="1.1" fill="#00aa2e"/>
<circle cx="241.0" cy="117.30" r="1.1" fill="#00aa2e"/>
<circle cx="247.5" cy="117.30" r="1.1" fill="#00aa2e"/>
<circle cx="249.4" cy="117.30" r="1.1" fill="#00aa2e"/>
<circle cx="251.3" cy="117.30" r="1.1" fill="#00aa2e"/>
<circle cx="258.0" cy="117.30" r="1.1" fill="#00aa2e"/>
<circle cx="266.5" cy="117.30" r="1.1" fill="#00aa2e"/>
<circle cx="274.1" cy="117.30" r="1.1" fill="#14145a"/>
<circle cx="278.0" cy="117.30" r="1.1" fill="#00aa2e"/>
<circle cx="283.7" cy="117.30" r="1.1" fill="#14145a"/>
<circle cx="286.3" cy="117.30" r="1.1" fill="#2a9a9a"/>
<circle cx="288.8" cy="117.30" r="1.1" fill="#2a9a9a"/>
<circle cx="290.7" cy="117.30" r="1.1" fill="#14145a"/>
<circle cx="292.6" cy="117.30" r="1.1" fill="#14145a"/>
<circle cx="296.1" cy="117.30" r="1.1" fill="#00aa2e"/>
<circle cx="302.5" cy="117.30" r="1.1" fill="#14145a"/>
<circle cx="306.4" cy="117.30" r="1.1" fill="#00aa2e"/>
<circle cx="313.4" cy="117.30" r="1.1" fill="#00aa2e"/>
<circle cx="315.3" cy="117.30" r="1.1" fill="#00aa2e"/>
<circle cx="317.2" cy="117.30" r="1.1" fill="#00aa2e"/>
<circle cx="321.0" cy="117.30" r="1.1" fill="#00aa2e"/>
<circle cx="322.3" cy="117.30" r="1.1" fill="#00aa2e"/>
<circle cx="324.2" cy="117.30" r="1.1" fill="#00aa2e"/>
<circle cx="326.1" cy="117.30" r="1.1" fill="#00aa2e"/>
<circle cx="332.9" cy="117.30" r="1.1" fill="#00aa2e"/>
<circle cx="335.7" cy="117.30" r="1.1" fill="#00aa2e"/>
<circle cx="337.6" cy="117.30" r="1.1" fill="#00aa2e"/>
<circle cx="339.6" cy="117.30" r="1.1" fill="#00aa2e"/>
<circle cx="341.5" cy="117.30" r="1.1" fill="#00aa2e"/>
<circle cx="321.0" cy="107.70" r="1.1" fill="#00aa2e"/>
<circle cx="321.0" cy="111.70" r="1.1" fill="#00aa2e"/>
<circle cx="321.0" cy="113.80" r="1.1" fill="#00aa2e"/>
<text x="144.7" y="196.54" font-size="4.5" fill="#1a9494" stroke="#1a9494" stroke-width="0.25" text-anchor="middle" opacity="0.58">C</text>
<text x="162.9" y="196.54" font-size="4.5" fill="#1a9494" stroke="#1a9494" stroke-width="0.25" text-anchor="middle" opacity="0.58">C</text>
<text x="167.6" y="196.54" font-size="4.5" fill="#1a9494" stroke="#1a9494" stroke-width="0.25" text-anchor="middle" opacity="0.58">C</text>
<text x="173.4" y="196.54" font-size="4.5" fill="#1a9494" stroke="#1a9494" stroke-width="0.25" text-anchor="middle" opacity="0.58">C</text>
<text x="183.5" y="196.54" font-size="4.5" fill="#1a9494" stroke="#1a9494" stroke-width="0.25" text-anchor="middle" opacity="0.58">C</text>
<text x="185.8" y="196.54" font-size="4.5" fill="#1a9494" stroke="#1a9494" stroke-width="0.25" text-anchor="middle" opacity="0.58">C</text>
<text x="276.3" y="196.54" font-size="4.5" fill="#1a9494" stroke="#1a9494" stroke-width="0.25" text-anchor="middle" opacity="0.58">C</text>
<text x="306.8" y="196.54" font-size="4.5" fill="#1a9494" stroke="#1a9494" stroke-width="0.25" text-anchor="middle" opacity="0.58">C</text>
<text x="43.5" y="209.84" font-size="4.5" fill="#1a9494" stroke="#1a9494" stroke-width="0.25" text-anchor="middle" opacity="0.58">C</text>
<text x="44.5" y="209.84" font-size="4.5" fill="#1a9494" stroke="#1a9494" stroke-width="0.25" text-anchor="middle" opacity="0.58">C</text>
<text x="54.7" y="209.84" font-size="4.5" fill="#1a9494" stroke="#1a9494" stroke-width="0.25" text-anchor="middle" opacity="0.58">C</text>
<text x="65.7" y="209.84" font-size="4.5" fill="#1a9494" stroke="#1a9494" stroke-width="0.25" text-anchor="middle" opacity="0.58">C</text>
<text x="72.1" y="209.84" font-size="4.5" fill="#1a9494" stroke="#1a9494" stroke-width="0.25" text-anchor="middle" opacity="0.58">C</text>
<text x="93.3" y="209.84" font-size="4.5" fill="#1a9494" stroke="#1a9494" stroke-width="0.25" text-anchor="middle" opacity="0.58">C</text>
<text x="112.9" y="209.84" font-size="4.5" fill="#1a9494" stroke="#1a9494" stroke-width="0.25" text-anchor="middle" opacity="0.58">C</text>
<text x="124.9" y="209.84" font-size="4.5" fill="#1a9494" stroke="#1a9494" stroke-width="0.25" text-anchor="middle" opacity="0.58">C</text>
<text x="132.8" y="209.84" font-size="4.5" fill="#1a9494" stroke="#1a9494" stroke-width="0.25" text-anchor="middle" opacity="0.58">C</text>
<text x="146.3" y="209.84" font-size="4.5" fill="#1a9494" stroke="#1a9494" stroke-width="0.25" text-anchor="middle" opacity="0.58">C</text>
<text x="152.3" y="209.84" font-size="4.5" fill="#1a9494" stroke="#1a9494" stroke-width="0.25" text-anchor="middle" opacity="0.58">C</text>
<text x="165.1" y="209.84" font-size="4.5" fill="#1a9494" stroke="#1a9494" stroke-width="0.25" text-anchor="middle" opacity="0.58">C</text>
<text x="175.2" y="209.84" font-size="4.5" fill="#1a9494" stroke="#1a9494" stroke-width="0.25" text-anchor="middle" opacity="0.58">C</text>
<text x="176.2" y="209.84" font-size="4.5" fill="#1a9494" stroke="#1a9494" stroke-width="0.25" text-anchor="middle" opacity="0.58">C</text>
<text x="187.0" y="209.84" font-size="4.5" fill="#1a9494" stroke="#1a9494" stroke-width="0.25" text-anchor="middle" opacity="0.58">C</text>
<text x="189.2" y="209.84" font-size="4.5" fill="#1a9494" stroke="#1a9494" stroke-width="0.25" text-anchor="middle" opacity="0.58">C</text>
<text x="194.0" y="209.84" font-size="4.5" fill="#1a9494" stroke="#1a9494" stroke-width="0.25" text-anchor="middle" opacity="0.58">C</text>
<text x="222.8" y="209.84" font-size="4.5" fill="#1a9494" stroke="#1a9494" stroke-width="0.25" text-anchor="middle" opacity="0.58">C</text>
<text x="246.9" y="209.84" font-size="4.5" fill="#1a9494" stroke="#1a9494" stroke-width="0.25" text-anchor="middle" opacity="0.58">C</text>
<text x="252.6" y="209.84" font-size="4.5" fill="#1a9494" stroke="#1a9494" stroke-width="0.25" text-anchor="middle" opacity="0.58">C</text>
<text x="285.5" y="209.84" font-size="4.5" fill="#1a9494" stroke="#1a9494" stroke-width="0.25" text-anchor="middle" opacity="0.58">C</text>
<text x="291.3" y="209.84" font-size="4.5" fill="#1a9494" stroke="#1a9494" stroke-width="0.25" text-anchor="middle" opacity="0.58">C</text>
<text x="308.8" y="209.84" font-size="4.5" fill="#1a9494" stroke="#1a9494" stroke-width="0.25" text-anchor="middle" opacity="0.58">C</text>
<text x="311.0" y="209.84" font-size="4.5" fill="#1a9494" stroke="#1a9494" stroke-width="0.25" text-anchor="middle" opacity="0.58">C</text>
<text x="313.0" y="209.84" font-size="4.5" fill="#1a9494" stroke="#1a9494" stroke-width="0.25" text-anchor="middle" opacity="0.58">C</text>
<text x="321.3" y="209.84" font-size="4.5" fill="#1a9494" stroke="#1a9494" stroke-width="0.25" text-anchor="middle" opacity="0.58">C</text>
<text x="333.0" y="209.84" font-size="4.5" fill="#1a9494" stroke="#1a9494" stroke-width="0.25" text-anchor="middle" opacity="0.58">C</text>
<text x="153.2" y="209.84" font-size="4.5" fill="#8f8f28" stroke="#8f8f28" stroke-width="0.25" text-anchor="middle" opacity="0.7">F</text>
<text x="166.0" y="209.84" font-size="4.5" fill="#8f8f28" stroke="#8f8f28" stroke-width="0.25" text-anchor="middle" opacity="0.7">F</text>
<circle cx="43.3" cy="255.00" r="1.1" fill="#14145a"/>
<circle cx="46.3" cy="255.00" r="1.1" fill="#14145a"/>
<circle cx="47.9" cy="255.00" r="1.1" fill="#2a9a9a"/>
<circle cx="49.5" cy="255.00" r="1.1" fill="#14145a"/>
<circle cx="51.0" cy="255.00" r="1.1" fill="#2a9a9a"/>
<circle cx="52.6" cy="255.00" r="1.1" fill="#14145a"/>
<circle cx="55.5" cy="255.00" r="1.1" fill="#00aa2e"/>
<circle cx="60.8" cy="255.00" r="1.1" fill="#00aa2e"/>
<circle cx="62.6" cy="255.00" r="1.1" fill="#2a9a9a"/>
<circle cx="64.2" cy="255.00" r="1.1" fill="#00aa2e"/>
<circle cx="65.8" cy="255.00" r="1.1" fill="#2a9a9a"/>
<circle cx="67.4" cy="255.00" r="1.1" fill="#00aa2e"/>
<circle cx="69.5" cy="255.00" r="1.1" fill="#14145a"/>
<circle cx="71.3" cy="255.00" r="1.1" fill="#14145a"/>
<circle cx="74.8" cy="255.00" r="1.1" fill="#00aa2e"/>
<circle cx="78.2" cy="255.00" r="1.1" fill="#14145a"/>
<circle cx="80.0" cy="255.00" r="1.1" fill="#00aa2e"/>
<circle cx="81.5" cy="255.00" r="1.1" fill="#00aa2e"/>
<circle cx="83.1" cy="255.00" r="1.1" fill="#14145a"/>
<circle cx="84.8" cy="255.00" r="1.1" fill="#00aa2e"/>
<circle cx="89.9" cy="255.00" r="1.1" fill="#14145a"/>
<circle cx="96.0" cy="255.00" r="1.1" fill="#14145a"/>
<circle cx="100.5" cy="255.00" r="1.1" fill="#14145a"/>
<circle cx="103.6" cy="255.00" r="1.1" fill="#14145a"/>
<circle cx="108.4" cy="255.00" r="1.1" fill="#14145a"/>
<circle cx="113.0" cy="255.00" r="1.1" fill="#14145a"/>
<circle cx="114.5" cy="255.00" r="1.1" fill="#14145a"/>
<circle cx="116.0" cy="255.00" r="1.1" fill="#14145a"/>
<circle cx="117.5" cy="255.00" r="1.1" fill="#14145a"/>
<circle cx="119.0" cy="255.00" r="1.1" fill="#14145a"/>
<circle cx="120.5" cy="255.00" r="1.1" fill="#00aa2e"/>
<circle cx="122.3" cy="255.00" r="1.1" fill="#00aa2e"/>
<circle cx="124.2" cy="255.00" r="1.1" fill="#00aa2e"/>
<circle cx="126.0" cy="255.00" r="1.1" fill="#00aa2e"/>
<circle cx="129.3" cy="255.00" r="1.1" fill="#00aa2e"/>
<circle cx="130.8" cy="255.00" r="1.1" fill="#00aa2e"/>
<circle cx="132.8" cy="255.00" r="1.1" fill="#00aa2e"/>
<circle cx="139.1" cy="255.00" r="1.1" fill="#00aa2e"/>
<circle cx="143.6" cy="255.00" r="1.1" fill="#00aa2e"/>
<circle cx="151.9" cy="255.00" r="1.1" fill="#00aa2e"/>
<circle cx="163.4" cy="255.00" r="1.1" fill="#14145a"/>
<circle cx="167.8" cy="255.00" r="1.1" fill="#00aa2e"/>
<circle cx="176.3" cy="255.00" r="1.1" fill="#00aa2e"/>
<circle cx="177.9" cy="255.00" r="1.1" fill="#00aa2e"/>
<circle cx="185.2" cy="255.00" r="1.1" fill="#00aa2e"/>
<circle cx="186.8" cy="255.00" r="1.1" fill="#00aa2e"/>
<circle cx="192.8" cy="255.00" r="1.1" fill="#00aa2e"/>
<circle cx="201.8" cy="255.00" r="1.1" fill="#00aa2e"/>
<circle cx="203.4" cy="255.00" r="1.1" fill="#00aa2e"/>
<circle cx="212.4" cy="255.00" r="1.1" fill="#00aa2e"/>
<circle cx="219.2" cy="255.00" r="1.1" fill="#00aa2e"/>
<circle cx="223.8" cy="255.00" r="1.1" fill="#00aa2e"/>
<circle cx="231.0" cy="255.00" r="1.1" fill="#00aa2e"/>
<circle cx="244.7" cy="255.00" r="1.1" fill="#00aa2e"/>
<circle cx="246.4" cy="255.00" r="1.1" fill="#00aa2e"/>
<circle cx="248.1" cy="255.00" r="1.1" fill="#00aa2e"/>
<circle cx="249.8" cy="255.00" r="1.1" fill="#00aa2e"/>
<circle cx="251.5" cy="255.00" r="1.1" fill="#00aa2e"/>
<circle cx="266.5" cy="255.00" r="1.1" fill="#14145a"/>
<circle cx="284.6" cy="255.00" r="1.1" fill="#14145a"/>
<circle cx="286.3" cy="255.00" r="1.1" fill="#00aa2e"/>
<circle cx="291.7" cy="255.00" r="1.1" fill="#00aa2e"/>
<circle cx="307.7" cy="255.00" r="1.1" fill="#00aa2e"/>
<circle cx="310.9" cy="255.00" r="1.1" fill="#14145a"/>
<circle cx="332.3" cy="255.00" r="1.1" fill="#00aa2e"/>
<circle cx="334.4" cy="255.00" r="1.1" fill="#00aa2e"/>
<circle cx="336.5" cy="255.00" r="1.1" fill="#00aa2e"/>
<circle cx="340.0" cy="255.00" r="1.1" fill="#14145a"/>
<circle cx="79.6" cy="241.20" r="1.1" fill="#14145a"/>
<circle cx="79.6" cy="242.80" r="1.1" fill="#14145a"/>
<circle cx="79.6" cy="245.80" r="1.1" fill="#14145a"/>
<circle cx="83.1" cy="252.30" r="1.1" fill="#00aa2e"/>
<circle cx="123.0" cy="254.40" r="1.1" fill="#00aa2e"/>
<circle cx="124.5" cy="254.10" r="1.1" fill="#00aa2e"/>
<circle cx="126.0" cy="253.60" r="1.1" fill="#00aa2e"/>
<circle cx="127.5" cy="253.00" r="1.1" fill="#00aa2e"/>
<circle cx="129.0" cy="252.40" r="1.1" fill="#00aa2e"/>
<circle cx="130.5" cy="251.20" r="1.1" fill="#00aa2e"/>
<circle cx="130.8" cy="249.80" r="1.1" fill="#00aa2e"/>
<circle cx="131.5" cy="253.00" r="1.1" fill="#00aa2e"/>
<text x="47.9" y="347.34" font-size="4.5" fill="#1a9494" stroke="#1a9494" stroke-width="0.25" text-anchor="middle" opacity="0.58">C</text>
<text x="52.3" y="347.34" font-size="4.5" fill="#1a9494" stroke="#1a9494" stroke-width="0.25" text-anchor="middle" opacity="0.58">C</text>
<text x="65.2" y="347.34" font-size="4.5" fill="#1a9494" stroke="#1a9494" stroke-width="0.25" text-anchor="middle" opacity="0.58">C</text>
<text x="74.3" y="347.34" font-size="4.5" fill="#1a9494" stroke="#1a9494" stroke-width="0.25" text-anchor="middle" opacity="0.58">C</text>
<text x="84.8" y="347.34" font-size="4.5" fill="#1a9494" stroke="#1a9494" stroke-width="0.25" text-anchor="middle" opacity="0.58">C</text>
<text x="112.5" y="347.34" font-size="4.5" fill="#1a9494" stroke="#1a9494" stroke-width="0.25" text-anchor="middle" opacity="0.58">C</text>
<text x="123.6" y="347.34" font-size="4.5" fill="#1a9494" stroke="#1a9494" stroke-width="0.25" text-anchor="middle" opacity="0.58">C</text>
<text x="133.9" y="347.34" font-size="4.5" fill="#1a9494" stroke="#1a9494" stroke-width="0.25" text-anchor="middle" opacity="0.58">C</text>
<text x="141.1" y="347.34" font-size="4.5" fill="#1a9494" stroke="#1a9494" stroke-width="0.25" text-anchor="middle" opacity="0.58">C</text>
<text x="153.9" y="347.34" font-size="4.5" fill="#1a9494" stroke="#1a9494" stroke-width="0.25" text-anchor="middle" opacity="0.58">C</text>
<circle cx="49.0" cy="392.60" r="1.1" fill="#14145a"/>
<circle cx="51.0" cy="392.60" r="1.1" fill="#14145a"/>
<circle cx="52.8" cy="392.60" r="1.1" fill="#00aa2e"/>
<circle cx="54.6" cy="392.60" r="1.1" fill="#14145a"/>
<circle cx="56.4" cy="392.60" r="1.1" fill="#14145a"/>
<circle cx="61.5" cy="392.60" r="1.1" fill="#14145a"/>
<circle cx="63.3" cy="392.60" r="1.1" fill="#14145a"/>
<circle cx="65.0" cy="392.60" r="1.1" fill="#2a9a9a"/>
<circle cx="66.8" cy="392.60" r="1.1" fill="#00aa2e"/>
<circle cx="68.6" cy="392.60" r="1.1" fill="#00aa2e"/>
<circle cx="70.4" cy="392.60" r="1.1" fill="#00aa2e"/>
<circle cx="72.0" cy="392.60" r="1.1" fill="#14145a"/>
<circle cx="75.0" cy="392.60" r="1.1" fill="#14145a"/>
<circle cx="90.7" cy="392.60" r="1.1" fill="#00aa2e"/>
<circle cx="95.5" cy="392.60" r="1.1" fill="#00aa2e"/>
<circle cx="105.4" cy="392.60" r="1.1" fill="#00aa2e"/>
<circle cx="114.3" cy="392.60" r="1.1" fill="#14145a"/>
<circle cx="118.2" cy="392.60" r="1.1" fill="#14145a"/>
<circle cx="120.9" cy="392.60" r="1.1" fill="#2a9a9a"/>
<circle cx="122.7" cy="392.60" r="1.1" fill="#00aa2e"/>
<circle cx="125.4" cy="392.60" r="1.1" fill="#14145a"/>
<circle cx="127.1" cy="392.60" r="1.1" fill="#14145a"/>
<circle cx="128.9" cy="392.60" r="1.1" fill="#00aa2e"/>
<circle cx="130.7" cy="392.60" r="1.1" fill="#00aa2e"/>
<circle cx="132.5" cy="392.60" r="1.1" fill="#00aa2e"/>
<circle cx="137.9" cy="392.60" r="1.1" fill="#00aa2e"/>
<circle cx="142.9" cy="392.60" r="1.1" fill="#00aa2e"/>
<circle cx="147.7" cy="392.60" r="1.1" fill="#00aa2e"/>
<circle cx="149.2" cy="392.60" r="1.1" fill="#00aa2e"/>
<circle cx="150.6" cy="392.60" r="1.1" fill="#00aa2e"/>
<circle cx="152.1" cy="392.60" r="1.1" fill="#00aa2e"/>
<circle cx="161.5" cy="392.60" r="1.1" fill="#14145a"/>
<circle cx="164.8" cy="392.60" r="1.1" fill="#00aa2e"/>
<circle cx="179.4" cy="392.60" r="0.95" fill="#00aa2e"/>
<circle cx="181.1" cy="392.60" r="0.95" fill="#00aa2e"/>
<circle cx="182.7" cy="392.60" r="0.95" fill="#00aa2e"/>
<circle cx="184.3" cy="392.60" r="0.95" fill="#00aa2e"/>
<circle cx="186.0" cy="392.60" r="0.95" fill="#00aa2e"/>
<circle cx="189.0" cy="392.60" r="0.95" fill="#00aa2e"/>
<circle cx="190.4" cy="392.60" r="0.95" fill="#00aa2e"/>
<circle cx="191.9" cy="392.60" r="0.95" fill="#00aa2e"/>
<circle cx="193.3" cy="392.60" r="0.95" fill="#00aa2e"/>
<circle cx="194.8" cy="392.60" r="0.95" fill="#00aa2e"/>
<circle cx="196.2" cy="392.60" r="0.95" fill="#00aa2e"/>
<text x="197.6" y="394.24" font-size="4.5" fill="#8cc8c8" stroke="#8cc8c8" stroke-width="0.25" text-anchor="middle" opacity="0.58">C</text>
<circle cx="203.2" cy="392.60" r="0.95" fill="#00aa2e"/>
<circle cx="204.9" cy="392.60" r="0.95" fill="#00aa2e"/>
<circle cx="206.7" cy="392.60" r="0.95" fill="#00aa2e"/>
<text x="211.8" y="394.24" font-size="4.5" fill="#8cc8c8" stroke="#8cc8c8" stroke-width="0.25" text-anchor="middle" opacity="0.58">C</text>
<circle cx="213.4" cy="392.60" r="0.95" fill="#00aa2e"/>
<circle cx="214.9" cy="392.60" r="0.95" fill="#00aa2e"/>
<circle cx="216.4" cy="392.60" r="0.95" fill="#00aa2e"/>
<circle cx="219.0" cy="392.60" r="0.95" fill="#00aa2e"/>
<circle cx="220.6" cy="392.60" r="0.95" fill="#00aa2e"/>
<circle cx="222.2" cy="392.60" r="0.95" fill="#00aa2e"/>
<circle cx="223.8" cy="392.60" r="0.95" fill="#00aa2e"/>
<circle cx="225.4" cy="392.60" r="0.95" fill="#00aa2e"/>
<circle cx="227.0" cy="392.60" r="0.95" fill="#00aa2e"/>
<circle cx="228.6" cy="392.60" r="0.95" fill="#00aa2e"/>
<circle cx="230.2" cy="392.60" r="0.95" fill="#00aa2e"/>
<circle cx="234.5" cy="392.60" r="0.95" fill="#14145a"/>
<circle cx="239.7" cy="392.60" r="0.95" fill="#00aa2e"/>
<circle cx="241.1" cy="392.60" r="0.95" fill="#00aa2e"/>
<circle cx="242.6" cy="392.60" r="0.95" fill="#00aa2e"/>
<circle cx="244.0" cy="392.60" r="0.95" fill="#00aa2e"/>
<circle cx="245.5" cy="392.60" r="0.95" fill="#00aa2e"/>
<circle cx="246.9" cy="392.60" r="0.95" fill="#00aa2e"/>
<circle cx="248.3" cy="392.60" r="0.95" fill="#00aa2e"/>
<circle cx="249.8" cy="392.60" r="0.95" fill="#00aa2e"/>
<circle cx="251.2" cy="392.60" r="0.95" fill="#00aa2e"/>
<circle cx="252.7" cy="392.60" r="0.95" fill="#00aa2e"/>
<circle cx="254.1" cy="392.60" r="0.95" fill="#00aa2e"/>
<circle cx="255.6" cy="392.60" r="0.95" fill="#00aa2e"/>
<circle cx="257.0" cy="392.60" r="0.95" fill="#00aa2e"/>
<circle cx="259.0" cy="392.60" r="0.95" fill="#00aa2e"/>
<circle cx="261.1" cy="392.60" r="0.95" fill="#00aa2e"/>
<text x="263.5" y="394.24" font-size="4.5" fill="#8cc8c8" stroke="#8cc8c8" stroke-width="0.25" text-anchor="middle" opacity="0.58">C</text>
<text x="265.1" y="394.24" font-size="4.5" fill="#8cc8c8" stroke="#8cc8c8" stroke-width="0.25" text-anchor="middle" opacity="0.58">C</text>
<text x="266.6" y="394.24" font-size="4.5" fill="#8cc8c8" stroke="#8cc8c8" stroke-width="0.25" text-anchor="middle" opacity="0.58">C</text>
<text x="268.2" y="394.24" font-size="4.5" fill="#8cc8c8" stroke="#8cc8c8" stroke-width="0.25" text-anchor="middle" opacity="0.58">C</text>
<text x="269.7" y="394.24" font-size="4.5" fill="#8cc8c8" stroke="#8cc8c8" stroke-width="0.25" text-anchor="middle" opacity="0.58">C</text>
<text x="271.3" y="394.24" font-size="4.5" fill="#8cc8c8" stroke="#8cc8c8" stroke-width="0.25" text-anchor="middle" opacity="0.58">C</text>
<text x="272.8" y="394.24" font-size="4.5" fill="#8cc8c8" stroke="#8cc8c8" stroke-width="0.25" text-anchor="middle" opacity="0.58">C</text>
<text x="274.4" y="394.24" font-size="4.5" fill="#8cc8c8" stroke="#8cc8c8" stroke-width="0.25" text-anchor="middle" opacity="0.58">C</text>
<text x="275.9" y="394.24" font-size="4.5" fill="#8cc8c8" stroke="#8cc8c8" stroke-width="0.25" text-anchor="middle" opacity="0.58">C</text>
<text x="277.5" y="394.24" font-size="4.5" fill="#8cc8c8" stroke="#8cc8c8" stroke-width="0.25" text-anchor="middle" opacity="0.58">C</text>
<circle cx="281.8" cy="392.60" r="0.95" fill="#00aa2e"/>
<circle cx="288.0" cy="392.60" r="0.95" fill="#00aa2e"/>
<circle cx="289.6" cy="392.60" r="0.95" fill="#00aa2e"/>
<circle cx="291.1" cy="392.60" r="0.95" fill="#00aa2e"/>
<circle cx="292.7" cy="392.60" r="0.95" fill="#00aa2e"/>
<circle cx="294.3" cy="392.60" r="0.95" fill="#00aa2e"/>
<circle cx="295.9" cy="392.60" r="0.95" fill="#00aa2e"/>
<circle cx="297.4" cy="392.60" r="0.95" fill="#00aa2e"/>
<circle cx="299.0" cy="392.60" r="0.95" fill="#00aa2e"/>
<circle cx="306.1" cy="392.60" r="0.95" fill="#00aa2e"/>
<circle cx="310.5" cy="392.60" r="0.95" fill="#00aa2e"/>
<circle cx="312.1" cy="392.60" r="0.95" fill="#00aa2e"/>
<circle cx="313.8" cy="392.60" r="0.95" fill="#00aa2e"/>
<circle cx="316.0" cy="392.60" r="0.95" fill="#14145a"/>
<text x="319.0" y="394.24" font-size="4.5" fill="#8cc8c8" stroke="#8cc8c8" stroke-width="0.25" text-anchor="middle" opacity="0.58">C</text>
<text x="320.6" y="394.24" font-size="4.5" fill="#8cc8c8" stroke="#8cc8c8" stroke-width="0.25" text-anchor="middle" opacity="0.58">C</text>
<text x="322.2" y="394.24" font-size="4.5" fill="#8cc8c8" stroke="#8cc8c8" stroke-width="0.25" text-anchor="middle" opacity="0.58">C</text>
<text x="323.9" y="394.24" font-size="4.5" fill="#8cc8c8" stroke="#8cc8c8" stroke-width="0.25" text-anchor="middle" opacity="0.58">C</text>
<text x="325.5" y="394.24" font-size="4.5" fill="#8cc8c8" stroke="#8cc8c8" stroke-width="0.25" text-anchor="middle" opacity="0.58">C</text>
<circle cx="325.5" cy="392.60" r="0.95" fill="#00aa2e"/>
<circle cx="327.0" cy="392.60" r="0.95" fill="#00aa2e"/>
<circle cx="328.5" cy="392.60" r="0.95" fill="#00aa2e"/>
<circle cx="330.0" cy="392.60" r="0.95" fill="#00aa2e"/>
<circle cx="331.6" cy="392.60" r="0.95" fill="#00aa2e"/>
<circle cx="333.1" cy="392.60" r="0.95" fill="#00aa2e"/>
<circle cx="334.6" cy="392.60" r="0.95" fill="#00aa2e"/>
<circle cx="336.1" cy="392.60" r="0.95" fill="#00aa2e"/>
<circle cx="337.6" cy="392.60" r="0.95" fill="#00aa2e"/>
<circle cx="259.0" cy="388.60" r="0.95" fill="#00aa2e"/>
<circle cx="259.0" cy="390.30" r="0.95" fill="#00aa2e"/>
<circle cx="252.4" cy="390.60" r="0.95" fill="#00aa2e"/>
<circle cx="316.6" cy="388.20" r="0.95" fill="#00aa2e"/>
<circle cx="44.0" cy="530.30" r="1.1" fill="#00aa2e"/>
<circle cx="45.5" cy="530.30" r="1.1" fill="#00aa2e"/>
<circle cx="47.0" cy="530.30" r="1.1" fill="#00aa2e"/>
<circle cx="48.5" cy="530.30" r="1.1" fill="#00aa2e"/>
<circle cx="50.0" cy="530.30" r="1.1" fill="#00aa2e"/>
<circle cx="51.5" cy="530.30" r="1.1" fill="#00aa2e"/>
<circle cx="53.0" cy="530.30" r="1.1" fill="#00aa2e"/>
<text x="47.0" y="531.72" font-size="3.9" fill="#008c88" stroke="#008c88" stroke-width="0.25" text-anchor="middle" opacity="0.85">C</text>
<text x="50.5" y="531.72" font-size="3.9" fill="#008c88" stroke="#008c88" stroke-width="0.25" text-anchor="middle" opacity="0.85">C</text>
<circle cx="54.0" cy="530.30" r="1.1" fill="#14145a"/>
<circle cx="55.5" cy="530.30" r="1.1" fill="#00aa2e"/>
<circle cx="57.0" cy="530.30" r="1.1" fill="#14145a"/>
<circle cx="58.5" cy="530.30" r="1.1" fill="#00aa2e"/>
<circle cx="60.0" cy="530.30" r="1.1" fill="#14145a"/>
<circle cx="61.5" cy="530.30" r="1.1" fill="#00aa2e"/>
<circle cx="63.0" cy="530.30" r="1.1" fill="#00aa2e"/>
<circle cx="64.5" cy="530.30" r="1.1" fill="#00aa2e"/>
<circle cx="66.0" cy="530.30" r="1.1" fill="#00aa2e"/>
<circle cx="67.0" cy="530.30" r="1.1" fill="#14145a"/>
<circle cx="68.5" cy="530.30" r="1.1" fill="#00aa2e"/>
<circle cx="70.2" cy="530.30" r="1.1" fill="#00aa2e"/>
<circle cx="72.0" cy="530.30" r="1.1" fill="#00aa2e"/>
<text x="70.0" y="531.72" font-size="3.9" fill="#008c88" stroke="#008c88" stroke-width="0.25" text-anchor="middle" opacity="0.85">C</text>
<circle cx="73.3" cy="530.30" r="1.1" fill="#14145a"/>
<circle cx="75.6" cy="530.30" r="1.1" fill="#00aa2e"/>
<circle cx="78.8" cy="530.30" r="1.1" fill="#00aa2e"/>
<circle cx="81.4" cy="530.30" r="1.1" fill="#00aa2e"/>
<text x="83.7" y="531.72" font-size="3.9" fill="#008c88" stroke="#008c88" stroke-width="0.25" text-anchor="middle" opacity="0.85">C</text>
<text x="88.4" y="531.94" font-size="4.5" fill="#8cc8c8" stroke="#8cc8c8" stroke-width="0.25" text-anchor="middle" opacity="0.58">C</text>
<circle cx="91.0" cy="530.30" r="1.1" fill="#00aa2e"/>
<text x="94.0" y="531.72" font-size="3.9" fill="#008c88" stroke="#008c88" stroke-width="0.25" text-anchor="middle" opacity="0.85">C</text>
<text x="96.0" y="531.94" font-size="4.5" fill="#8cc8c8" stroke="#8cc8c8" stroke-width="0.25" text-anchor="middle" opacity="0.58">C</text>
<text x="101.5" y="531.72" font-size="3.9" fill="#008c88" stroke="#008c88" stroke-width="0.25" text-anchor="middle" opacity="0.85">C</text>
<text x="102.9" y="531.72" font-size="3.9" fill="#008c88" stroke="#008c88" stroke-width="0.25" text-anchor="middle" opacity="0.85">C</text>
<text x="104.3" y="531.72" font-size="3.9" fill="#008c88" stroke="#008c88" stroke-width="0.25" text-anchor="middle" opacity="0.85">C</text>
<text x="105.7" y="531.72" font-size="3.9" fill="#008c88" stroke="#008c88" stroke-width="0.25" text-anchor="middle" opacity="0.85">C</text>
<text x="107.1" y="531.72" font-size="3.9" fill="#008c88" stroke="#008c88" stroke-width="0.25" text-anchor="middle" opacity="0.85">C</text>
<text x="108.5" y="531.72" font-size="3.9" fill="#008c88" stroke="#008c88" stroke-width="0.25" text-anchor="middle" opacity="0.85">C</text>
<text x="109.9" y="531.72" font-size="3.9" fill="#008c88" stroke="#008c88" stroke-width="0.25" text-anchor="middle" opacity="0.85">C</text>
<text x="111.3" y="531.72" font-size="3.9" fill="#008c88" stroke="#008c88" stroke-width="0.25" text-anchor="middle" opacity="0.85">C</text>
<text x="112.7" y="531.72" font-size="3.9" fill="#008c88" stroke="#008c88" stroke-width="0.25" text-anchor="middle" opacity="0.85">C</text>
<text x="114.1" y="531.72" font-size="3.9" fill="#008c88" stroke="#008c88" stroke-width="0.25" text-anchor="middle" opacity="0.85">C</text>
<text x="115.4" y="531.72" font-size="3.9" fill="#008c88" stroke="#008c88" stroke-width="0.25" text-anchor="middle" opacity="0.85">C</text>
<text x="116.8" y="531.72" font-size="3.9" fill="#008c88" stroke="#008c88" stroke-width="0.25" text-anchor="middle" opacity="0.85">C</text>
<text x="118.2" y="531.72" font-size="3.9" fill="#008c88" stroke="#008c88" stroke-width="0.25" text-anchor="middle" opacity="0.85">C</text>
<text x="119.6" y="531.72" font-size="3.9" fill="#008c88" stroke="#008c88" stroke-width="0.25" text-anchor="middle" opacity="0.85">C</text>
<text x="121.0" y="531.72" font-size="3.9" fill="#008c88" stroke="#008c88" stroke-width="0.25" text-anchor="middle" opacity="0.85">C</text>
<text x="122.4" y="531.72" font-size="3.9" fill="#008c88" stroke="#008c88" stroke-width="0.25" text-anchor="middle" opacity="0.85">C</text>
<text x="123.8" y="531.72" font-size="3.9" fill="#008c88" stroke="#008c88" stroke-width="0.25" text-anchor="middle" opacity="0.85">C</text>
<text x="125.2" y="531.72" font-size="3.9" fill="#008c88" stroke="#008c88" stroke-width="0.25" text-anchor="middle" opacity="0.85">C</text>
<text x="126.6" y="531.72" font-size="3.9" fill="#008c88" stroke="#008c88" stroke-width="0.25" text-anchor="middle" opacity="0.85">C</text>
<text x="128.0" y="531.72" font-size="3.9" fill="#008c88" stroke="#008c88" stroke-width="0.25" text-anchor="middle" opacity="0.85">C</text>
<circle cx="116.0" cy="530.30" r="1.1" fill="#00aa2e"/>
<circle cx="119.5" cy="530.30" r="1.1" fill="#00aa2e"/>
<circle cx="123.0" cy="530.30" r="1.1" fill="#00aa2e"/>
<text x="129.5" y="531.72" font-size="3.9" fill="#008c88" stroke="#008c88" stroke-width="0.25" text-anchor="middle" opacity="0.85">C</text>
<text x="130.9" y="531.72" font-size="3.9" fill="#008c88" stroke="#008c88" stroke-width="0.25" text-anchor="middle" opacity="0.85">C</text>
<text x="132.3" y="531.72" font-size="3.9" fill="#008c88" stroke="#008c88" stroke-width="0.25" text-anchor="middle" opacity="0.85">C</text>
<text x="133.6" y="531.72" font-size="3.9" fill="#008c88" stroke="#008c88" stroke-width="0.25" text-anchor="middle" opacity="0.85">C</text>
<text x="135.0" y="531.72" font-size="3.9" fill="#008c88" stroke="#008c88" stroke-width="0.25" text-anchor="middle" opacity="0.85">C</text>
<text x="136.4" y="531.72" font-size="3.9" fill="#008c88" stroke="#008c88" stroke-width="0.25" text-anchor="middle" opacity="0.85">C</text>
<text x="137.8" y="531.72" font-size="3.9" fill="#008c88" stroke="#008c88" stroke-width="0.25" text-anchor="middle" opacity="0.85">C</text>
<text x="139.2" y="531.72" font-size="3.9" fill="#008c88" stroke="#008c88" stroke-width="0.25" text-anchor="middle" opacity="0.85">C</text>
<text x="140.6" y="531.72" font-size="3.9" fill="#008c88" stroke="#008c88" stroke-width="0.25" text-anchor="middle" opacity="0.85">C</text>
<text x="141.9" y="531.72" font-size="3.9" fill="#008c88" stroke="#008c88" stroke-width="0.25" text-anchor="middle" opacity="0.85">C</text>
<text x="143.3" y="531.72" font-size="3.9" fill="#008c88" stroke="#008c88" stroke-width="0.25" text-anchor="middle" opacity="0.85">C</text>
<text x="144.7" y="531.72" font-size="3.9" fill="#008c88" stroke="#008c88" stroke-width="0.25" text-anchor="middle" opacity="0.85">C</text>
<text x="146.1" y="531.72" font-size="3.9" fill="#008c88" stroke="#008c88" stroke-width="0.25" text-anchor="middle" opacity="0.85">C</text>
<text x="147.5" y="531.72" font-size="3.9" fill="#008c88" stroke="#008c88" stroke-width="0.25" text-anchor="middle" opacity="0.85">C</text>
<text x="148.9" y="531.72" font-size="3.9" fill="#008c88" stroke="#008c88" stroke-width="0.25" text-anchor="middle" opacity="0.85">C</text>
<text x="150.2" y="531.72" font-size="3.9" fill="#008c88" stroke="#008c88" stroke-width="0.25" text-anchor="middle" opacity="0.85">C</text>
<text x="151.6" y="531.72" font-size="3.9" fill="#008c88" stroke="#008c88" stroke-width="0.25" text-anchor="middle" opacity="0.85">C</text>
<text x="153.0" y="531.72" font-size="3.9" fill="#008c88" stroke="#008c88" stroke-width="0.25" text-anchor="middle" opacity="0.85">C</text>
<circle cx="153.8" cy="530.30" r="1.1" fill="#14145a"/>
<circle cx="155.0" cy="530.30" r="1.1" fill="#00aa2e"/>
<circle cx="156.2" cy="530.30" r="1.1" fill="#00aa2e"/>
<circle cx="157.5" cy="530.30" r="1.1" fill="#00aa2e"/>
<circle cx="158.8" cy="530.30" r="1.1" fill="#00aa2e"/>
<circle cx="160.0" cy="530.30" r="1.1" fill="#00aa2e"/>
<text x="161.0" y="531.94" font-size="4.5" fill="#8cc8c8" stroke="#8cc8c8" stroke-width="0.25" text-anchor="middle" opacity="0.58">C</text>
<circle cx="162.0" cy="530.30" r="1.1" fill="#00aa2e"/>
<circle cx="163.2" cy="530.30" r="1.1" fill="#00aa2e"/>
<circle cx="164.5" cy="530.30" r="1.1" fill="#00aa2e"/>
<circle cx="165.8" cy="530.30" r="1.1" fill="#00aa2e"/>
<circle cx="167.0" cy="530.30" r="1.1" fill="#00aa2e"/>
<text x="165.0" y="531.72" font-size="3.9" fill="#008c88" stroke="#008c88" stroke-width="0.25" text-anchor="middle" opacity="0.85">C</text>
<circle cx="168.0" cy="530.30" r="1.1" fill="#00aa2e"/>
<circle cx="169.3" cy="530.30" r="1.1" fill="#00aa2e"/>
<circle cx="170.7" cy="530.30" r="1.1" fill="#00aa2e"/>
<circle cx="172.0" cy="530.30" r="1.1" fill="#00aa2e"/>
<text x="172.5" y="531.72" font-size="3.9" fill="#008c88" stroke="#008c88" stroke-width="0.25" text-anchor="middle" opacity="0.85">C</text>
<text x="174.0" y="531.72" font-size="3.9" fill="#008c88" stroke="#008c88" stroke-width="0.25" text-anchor="middle" opacity="0.85">C</text>
<text x="175.5" y="531.72" font-size="3.9" fill="#008c88" stroke="#008c88" stroke-width="0.25" text-anchor="middle" opacity="0.85">C</text>
<text x="177.0" y="531.72" font-size="3.9" fill="#008c88" stroke="#008c88" stroke-width="0.25" text-anchor="middle" opacity="0.85">C</text>
<text x="178.5" y="531.72" font-size="3.9" fill="#008c88" stroke="#008c88" stroke-width="0.25" text-anchor="middle" opacity="0.85">C</text>
<text x="180.0" y="531.72" font-size="3.9" fill="#008c88" stroke="#008c88" stroke-width="0.25" text-anchor="middle" opacity="0.85">C</text>
<text x="181.5" y="531.72" font-size="3.9" fill="#008c88" stroke="#008c88" stroke-width="0.25" text-anchor="middle" opacity="0.85">C</text>
<circle cx="182.8" cy="530.30" r="1.1" fill="#14145a"/>
<circle cx="184.5" cy="530.30" r="1.1" fill="#00aa2e"/>
<circle cx="185.9" cy="530.30" r="1.1" fill="#00aa2e"/>
<circle cx="187.2" cy="530.30" r="1.1" fill="#00aa2e"/>
<circle cx="188.6" cy="530.30" r="1.1" fill="#00aa2e"/>
<circle cx="190.0" cy="530.30" r="1.1" fill="#00aa2e"/>
<text x="187.0" y="531.72" font-size="3.9" fill="#008c88" stroke="#008c88" stroke-width="0.25" text-anchor="middle" opacity="0.85">C</text>
<text x="190.5" y="531.72" font-size="3.9" fill="#008c88" stroke="#008c88" stroke-width="0.25" text-anchor="middle" opacity="0.85">C</text>
<text x="191.9" y="531.72" font-size="3.9" fill="#008c88" stroke="#008c88" stroke-width="0.25" text-anchor="middle" opacity="0.85">C</text>
<text x="193.2" y="531.72" font-size="3.9" fill="#008c88" stroke="#008c88" stroke-width="0.25" text-anchor="middle" opacity="0.85">C</text>
<text x="194.6" y="531.72" font-size="3.9" fill="#008c88" stroke="#008c88" stroke-width="0.25" text-anchor="middle" opacity="0.85">C</text>
<text x="195.9" y="531.72" font-size="3.9" fill="#008c88" stroke="#008c88" stroke-width="0.25" text-anchor="middle" opacity="0.85">C</text>
<text x="197.3" y="531.72" font-size="3.9" fill="#008c88" stroke="#008c88" stroke-width="0.25" text-anchor="middle" opacity="0.85">C</text>
<text x="198.6" y="531.72" font-size="3.9" fill="#008c88" stroke="#008c88" stroke-width="0.25" text-anchor="middle" opacity="0.85">C</text>
<text x="200.0" y="531.72" font-size="3.9" fill="#008c88" stroke="#008c88" stroke-width="0.25" text-anchor="middle" opacity="0.85">C</text>
<circle cx="200.5" cy="530.30" r="1.1" fill="#00aa2e"/>
<circle cx="201.8" cy="530.30" r="1.1" fill="#00aa2e"/>
<circle cx="203.0" cy="530.30" r="1.1" fill="#00aa2e"/>
<circle cx="204.2" cy="530.30" r="1.1" fill="#00aa2e"/>
<circle cx="205.5" cy="530.30" r="1.1" fill="#00aa2e"/>
<text x="203.0" y="531.72" font-size="3.9" fill="#008c88" stroke="#008c88" stroke-width="0.25" text-anchor="middle" opacity="0.85">C</text>
<text x="208.0" y="531.72" font-size="3.9" fill="#008c88" stroke="#008c88" stroke-width="0.25" text-anchor="middle" opacity="0.85">C</text>
<text x="209.4" y="531.72" font-size="3.9" fill="#008c88" stroke="#008c88" stroke-width="0.25" text-anchor="middle" opacity="0.85">C</text>
<text x="210.8" y="531.72" font-size="3.9" fill="#008c88" stroke="#008c88" stroke-width="0.25" text-anchor="middle" opacity="0.85">C</text>
<text x="212.2" y="531.72" font-size="3.9" fill="#008c88" stroke="#008c88" stroke-width="0.25" text-anchor="middle" opacity="0.85">C</text>
<text x="213.6" y="531.72" font-size="3.9" fill="#008c88" stroke="#008c88" stroke-width="0.25" text-anchor="middle" opacity="0.85">C</text>
<text x="215.0" y="531.72" font-size="3.9" fill="#008c88" stroke="#008c88" stroke-width="0.25" text-anchor="middle" opacity="0.85">C</text>
<text x="216.4" y="531.72" font-size="3.9" fill="#008c88" stroke="#008c88" stroke-width="0.25" text-anchor="middle" opacity="0.85">C</text>
<text x="217.8" y="531.72" font-size="3.9" fill="#008c88" stroke="#008c88" stroke-width="0.25" text-anchor="middle" opacity="0.85">C</text>
<text x="219.2" y="531.72" font-size="3.9" fill="#008c88" stroke="#008c88" stroke-width="0.25" text-anchor="middle" opacity="0.85">C</text>
<text x="220.6" y="531.72" font-size="3.9" fill="#008c88" stroke="#008c88" stroke-width="0.25" text-anchor="middle" opacity="0.85">C</text>
<text x="222.0" y="531.72" font-size="3.9" fill="#008c88" stroke="#008c88" stroke-width="0.25" text-anchor="middle" opacity="0.85">C</text>
<circle cx="212.0" cy="530.30" r="1.1" fill="#14145a"/>
<text x="222.0" y="531.72" font-size="3.9" fill="#008c88" stroke="#008c88" stroke-width="0.25" text-anchor="middle" opacity="0.85">C</text>
<text x="223.3" y="531.72" font-size="3.9" fill="#008c88" stroke="#008c88" stroke-width="0.25" text-anchor="middle" opacity="0.85">C</text>
<text x="224.7" y="531.72" font-size="3.9" fill="#008c88" stroke="#008c88" stroke-width="0.25" text-anchor="middle" opacity="0.85">C</text>
<text x="226.0" y="531.72" font-size="3.9" fill="#008c88" stroke="#008c88" stroke-width="0.25" text-anchor="middle" opacity="0.85">C</text>
<text x="227.3" y="531.72" font-size="3.9" fill="#008c88" stroke="#008c88" stroke-width="0.25" text-anchor="middle" opacity="0.85">C</text>
<text x="228.7" y="531.72" font-size="3.9" fill="#008c88" stroke="#008c88" stroke-width="0.25" text-anchor="middle" opacity="0.85">C</text>
<text x="230.0" y="531.72" font-size="3.9" fill="#008c88" stroke="#008c88" stroke-width="0.25" text-anchor="middle" opacity="0.85">C</text>
<circle cx="224.0" cy="530.30" r="1.1" fill="#00aa2e"/>
<circle cx="228.0" cy="530.30" r="1.1" fill="#00aa2e"/>
<circle cx="231.5" cy="530.30" r="1.1" fill="#00aa2e"/>
<text x="233.0" y="531.72" font-size="3.9" fill="#008c88" stroke="#008c88" stroke-width="0.25" text-anchor="middle" opacity="0.85">C</text>
<text x="234.4" y="531.72" font-size="3.9" fill="#008c88" stroke="#008c88" stroke-width="0.25" text-anchor="middle" opacity="0.85">C</text>
<text x="235.8" y="531.72" font-size="3.9" fill="#008c88" stroke="#008c88" stroke-width="0.25" text-anchor="middle" opacity="0.85">C</text>
<text x="237.2" y="531.72" font-size="3.9" fill="#008c88" stroke="#008c88" stroke-width="0.25" text-anchor="middle" opacity="0.85">C</text>
<text x="238.7" y="531.72" font-size="3.9" fill="#008c88" stroke="#008c88" stroke-width="0.25" text-anchor="middle" opacity="0.85">C</text>
<text x="240.1" y="531.72" font-size="3.9" fill="#008c88" stroke="#008c88" stroke-width="0.25" text-anchor="middle" opacity="0.85">C</text>
<text x="241.5" y="531.72" font-size="3.9" fill="#008c88" stroke="#008c88" stroke-width="0.25" text-anchor="middle" opacity="0.85">C</text>
<text x="242.9" y="531.72" font-size="3.9" fill="#008c88" stroke="#008c88" stroke-width="0.25" text-anchor="middle" opacity="0.85">C</text>
<text x="244.3" y="531.72" font-size="3.9" fill="#008c88" stroke="#008c88" stroke-width="0.25" text-anchor="middle" opacity="0.85">C</text>
<text x="245.8" y="531.72" font-size="3.9" fill="#008c88" stroke="#008c88" stroke-width="0.25" text-anchor="middle" opacity="0.85">C</text>
<text x="247.2" y="531.72" font-size="3.9" fill="#008c88" stroke="#008c88" stroke-width="0.25" text-anchor="middle" opacity="0.85">C</text>
<text x="248.6" y="531.72" font-size="3.9" fill="#008c88" stroke="#008c88" stroke-width="0.25" text-anchor="middle" opacity="0.85">C</text>
<text x="250.0" y="531.72" font-size="3.9" fill="#008c88" stroke="#008c88" stroke-width="0.25" text-anchor="middle" opacity="0.85">C</text>
<circle cx="250.0" cy="530.30" r="1.1" fill="#00aa2e"/>
<circle cx="251.3" cy="530.30" r="1.1" fill="#00aa2e"/>
<circle cx="252.7" cy="530.30" r="1.1" fill="#00aa2e"/>
<circle cx="254.0" cy="530.30" r="1.1" fill="#00aa2e"/>
<circle cx="255.3" cy="530.30" r="1.1" fill="#00aa2e"/>
<circle cx="256.7" cy="530.30" r="1.1" fill="#00aa2e"/>
<circle cx="258.0" cy="530.30" r="1.1" fill="#00aa2e"/>
<text x="258.5" y="531.72" font-size="3.9" fill="#008c88" stroke="#008c88" stroke-width="0.25" text-anchor="middle" opacity="0.85">C</text>
<text x="259.8" y="531.72" font-size="3.9" fill="#008c88" stroke="#008c88" stroke-width="0.25" text-anchor="middle" opacity="0.85">C</text>
<text x="261.1" y="531.72" font-size="3.9" fill="#008c88" stroke="#008c88" stroke-width="0.25" text-anchor="middle" opacity="0.85">C</text>
<text x="262.4" y="531.72" font-size="3.9" fill="#008c88" stroke="#008c88" stroke-width="0.25" text-anchor="middle" opacity="0.85">C</text>
<text x="263.7" y="531.72" font-size="3.9" fill="#008c88" stroke="#008c88" stroke-width="0.25" text-anchor="middle" opacity="0.85">C</text>
<text x="265.0" y="531.72" font-size="3.9" fill="#008c88" stroke="#008c88" stroke-width="0.25" text-anchor="middle" opacity="0.85">C</text>
<circle cx="265.0" cy="530.30" r="1.1" fill="#00aa2e"/>
<circle cx="266.5" cy="530.30" r="1.1" fill="#00aa2e"/>
<circle cx="268.0" cy="530.30" r="1.1" fill="#00aa2e"/>
<circle cx="269.5" cy="530.30" r="1.1" fill="#00aa2e"/>
<circle cx="271.0" cy="530.30" r="1.1" fill="#00aa2e"/>
<text x="271.5" y="531.72" font-size="3.9" fill="#008c88" stroke="#008c88" stroke-width="0.25" text-anchor="middle" opacity="0.85">C</text>
<text x="272.9" y="531.72" font-size="3.9" fill="#008c88" stroke="#008c88" stroke-width="0.25" text-anchor="middle" opacity="0.85">C</text>
<text x="274.3" y="531.72" font-size="3.9" fill="#008c88" stroke="#008c88" stroke-width="0.25" text-anchor="middle" opacity="0.85">C</text>
<text x="275.8" y="531.72" font-size="3.9" fill="#008c88" stroke="#008c88" stroke-width="0.25" text-anchor="middle" opacity="0.85">C</text>
<text x="277.2" y="531.72" font-size="3.9" fill="#008c88" stroke="#008c88" stroke-width="0.25" text-anchor="middle" opacity="0.85">C</text>
<text x="278.6" y="531.72" font-size="3.9" fill="#008c88" stroke="#008c88" stroke-width="0.25" text-anchor="middle" opacity="0.85">C</text>
<text x="280.0" y="531.72" font-size="3.9" fill="#008c88" stroke="#008c88" stroke-width="0.25" text-anchor="middle" opacity="0.85">C</text>
<circle cx="280.0" cy="530.30" r="1.1" fill="#00aa2e"/>
<circle cx="281.4" cy="530.30" r="1.1" fill="#00aa2e"/>
<circle cx="282.8" cy="530.30" r="1.1" fill="#00aa2e"/>
<circle cx="284.2" cy="530.30" r="1.1" fill="#00aa2e"/>
<circle cx="285.6" cy="530.30" r="1.1" fill="#00aa2e"/>
<circle cx="287.0" cy="530.30" r="1.1" fill="#00aa2e"/>
<text x="287.5" y="531.72" font-size="3.9" fill="#008c88" stroke="#008c88" stroke-width="0.25" text-anchor="middle" opacity="0.85">C</text>
<text x="288.8" y="531.72" font-size="3.9" fill="#008c88" stroke="#008c88" stroke-width="0.25" text-anchor="middle" opacity="0.85">C</text>
<text x="290.1" y="531.72" font-size="3.9" fill="#008c88" stroke="#008c88" stroke-width="0.25" text-anchor="middle" opacity="0.85">C</text>
<text x="291.4" y="531.72" font-size="3.9" fill="#008c88" stroke="#008c88" stroke-width="0.25" text-anchor="middle" opacity="0.85">C</text>
<text x="292.8" y="531.72" font-size="3.9" fill="#008c88" stroke="#008c88" stroke-width="0.25" text-anchor="middle" opacity="0.85">C</text>
<text x="294.1" y="531.72" font-size="3.9" fill="#008c88" stroke="#008c88" stroke-width="0.25" text-anchor="middle" opacity="0.85">C</text>
<text x="295.4" y="531.72" font-size="3.9" fill="#008c88" stroke="#008c88" stroke-width="0.25" text-anchor="middle" opacity="0.85">C</text>
<text x="296.7" y="531.72" font-size="3.9" fill="#008c88" stroke="#008c88" stroke-width="0.25" text-anchor="middle" opacity="0.85">C</text>
<text x="298.0" y="531.72" font-size="3.9" fill="#008c88" stroke="#008c88" stroke-width="0.25" text-anchor="middle" opacity="0.85">C</text>
<circle cx="298.5" cy="530.30" r="1.1" fill="#00aa2e"/>
<circle cx="299.8" cy="530.30" r="1.1" fill="#00aa2e"/>
<circle cx="301.2" cy="530.30" r="1.1" fill="#00aa2e"/>
<circle cx="302.5" cy="530.30" r="1.1" fill="#00aa2e"/>
<circle cx="62.4" cy="528.30" r="1.1" fill="#00aa2e"/>
</g>
</svg>
</body></html>
